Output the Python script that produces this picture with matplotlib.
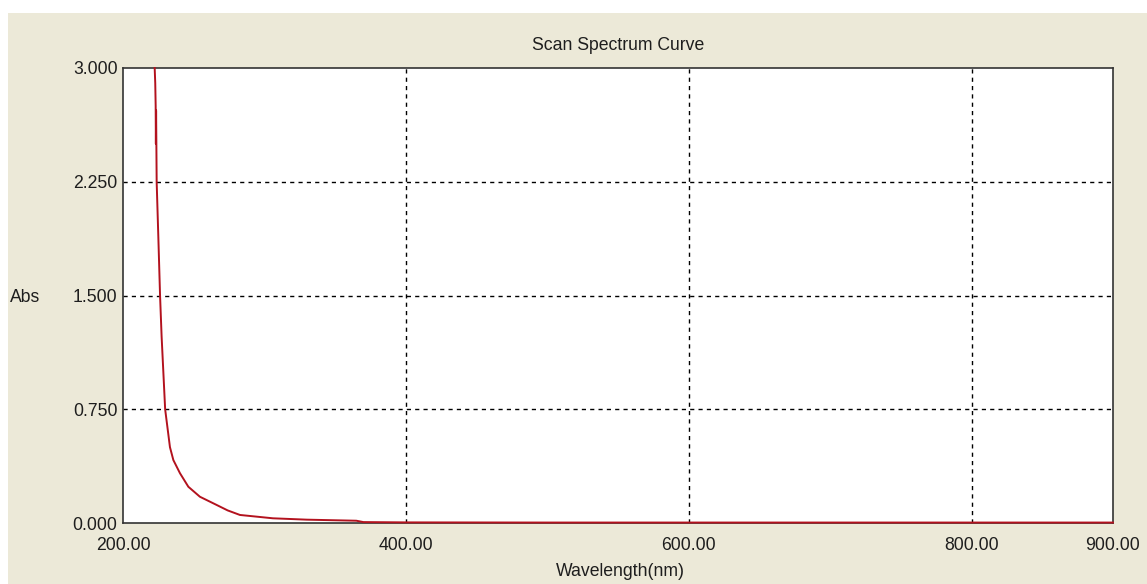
import matplotlib
matplotlib.use("Agg")
import matplotlib.pyplot as plt
from matplotlib.patches import Rectangle

wavelength = [222.4, 222.8, 223.1, 223.25, 223.4, 223.55, 223.8, 225.0, 226.2, 227.3,
              228.5, 229.8, 233.2, 235.6, 240.3, 246.2, 254.4, 266.2, 274.0, 282.7,
              306.0, 330.0, 365.0, 370.0, 400.0, 500.0, 600.0, 700.0, 800.0, 900.0]
absorb = [3.0, 2.9, 2.75, 2.5, 2.72, 2.55, 2.25, 1.88, 1.5, 1.23,
          1.0, 0.75, 0.50, 0.415, 0.328, 0.239, 0.173, 0.119, 0.083, 0.053,
          0.031, 0.022, 0.015, 0.006, 0.004, 0.003, 0.003, 0.003, 0.003, 0.003]

xticks = [200, 400, 600, 800, 900]
xticklabels = ["200.00", "400.00", "600.00", "800.00", "900.00"]
yticks = [0.0, 0.75, 1.5, 2.25, 3.0]
yticklabels = ["0.000", "0.750", "1.500", "2.250", "3.000"]
grid_x = [400, 600, 800]
grid_y = [0.75, 1.5, 2.25]

plt.rcParams["font.family"] = ["Liberation Sans", "DejaVu Sans"]
FS = 12.7
TXT = "#1E1E1E"

W, H = 1147, 584
fig = plt.figure(figsize=(W / 100, H / 100), dpi=100, facecolor="white")
bg = Rectangle((8 / W, 0), 1 - 8 / W, 1 - 13 / H, transform=fig.transFigure,
               facecolor="#ECE9D8", edgecolor="none", zorder=-10)
fig.add_artist(bg)

left, right, top, bottom = 123, 1113, 68, 523
ax = fig.add_axes([left / W, 1 - bottom / H, (right - left) / W, (bottom - top) / H])
ax.set_zorder(5)
ax.set_facecolor("white")
ax.set_xlim(200, 900)
ax.set_ylim(0, 3.0)

for gx in grid_x:
    ax.axvline(gx, color="black", lw=1, linestyle=(0, (3, 3)), zorder=1)
for gy in grid_y:
    ax.axhline(gy, color="black", lw=1, linestyle=(0, (3, 3)), zorder=1)

ax.plot(wavelength, absorb, color="#B3121E", lw=1.4, zorder=3, clip_on=False)

ax.set_xticks(xticks)
ax.set_xticklabels(xticklabels)
ax.set_yticks(yticks)
ax.set_yticklabels(yticklabels)
ax.tick_params(length=0, labelsize=FS, colors=TXT, pad=4)
ax.tick_params(axis="x", pad=10)
for s in ax.spines.values():
    s.set_color("#333333")
    s.set_linewidth(1.2)

fig.text((left + right) / 2 / W, 1 - 45 / H, "Scan Spectrum Curve", ha="center", va="center",
         fontsize=FS, color=TXT, zorder=10)
fig.text(25 / W, 1 - 297 / H, "Abs", ha="center", va="center", fontsize=FS, color=TXT, zorder=10)
fig.text(620 / W, 1 - 572 / H, "Wavelength(nm)", ha="center", va="center", fontsize=FS,
         color=TXT, zorder=10)

fig.savefig("out.png", dpi=100, facecolor="white")
